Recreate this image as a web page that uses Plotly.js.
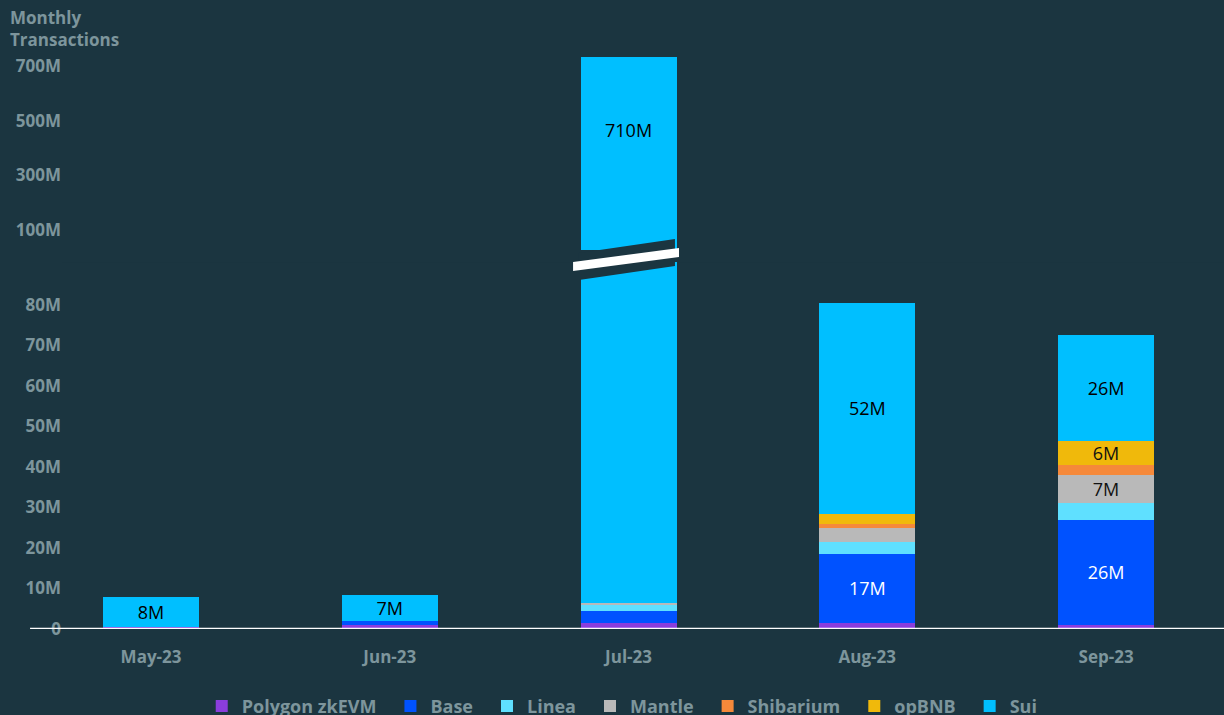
<!DOCTYPE html>
<html>
<head>
<meta charset="utf-8">
<script src="https://cdn.plot.ly/plotly-3.0.1.min.js"></script>
<style>
  html, body { margin: 0; padding: 0; background: #1b3540; overflow: hidden; }
  #chart { width: 1224px; height: 715px; }
</style>
</head>
<body>
<div id="chart"></div>
<script>
// ---- data (millions of transactions) ----
const months = ['May-23', 'Jun-23', 'Jul-23', 'Aug-23', 'Sep-23'];
const polygonZkEVM = [0.4, 1.0, 1.5, 1.5, 1.0];
const base = [0, 1.0, 3.0, 17, 26];
const linea = [0, 0, 1.4, 3.0, 4.0];
const mantle = [0, 0, 0.6, 3.5, 7];
const shibarium = [0, 0, 0, 1.0, 2.5];
const opBNB = [0, 0, 0, 2.5, 6];
const sui = [7.6, 6.5, 710, 52, 26];

const baseLabels = ['', '', '', '17M', '26M'];
const mantleLabels = ['', '', '', '', '7M'];
const opBNBLabels = ['', '', '', '', '6M'];
const suiLabels = ['8M', '7M', '710M', '52M', '26M'];

const lowerTickVals = [0, 10, 20, 30, 40, 50, 60, 70, 80];
const lowerTickText = ['0', '10M', '20M', '30M', '40M', '50M', '60M', '70M', '80M'];
const upperTickVals = [100, 300, 500, 700];
const upperTickText = ['100M', '300M', '500M', '700M'];

// ---- styling ----
const BG = '#1b3540';
const GREY = '#7d959c';
const FONT = 'Open Sans, Noto Sans, sans-serif';
const LOWER_MAX = 93.8;

const series = [
  { name: 'Polygon zkEVM', y: polygonZkEVM, color: '#8a3ddc', text: null, tc: '#000' },
  { name: 'Base', y: base, color: '#0052ff', text: baseLabels, tc: '#ffffff' },
  { name: 'Linea', y: linea, color: '#5fe0ff', text: null, tc: '#000' },
  { name: 'Mantle', y: mantle, color: '#b9b9b9', text: mantleLabels, tc: '#111' },
  { name: 'Shibarium', y: shibarium, color: '#f5893a', text: null, tc: '#000' },
  { name: 'opBNB', y: opBNB, color: '#f0b90b', text: opBNBLabels, tc: '#111' },
  { name: 'Sui', y: sui, color: '#00bfff', text: null, tc: '#000' }
];

// totals below Sui, for the broken (upper) part of the axis
const belowSui = months.map((m, i) => polygonZkEVM[i] + base[i] + linea[i] + mantle[i] + shibarium[i] + opBNB[i]);
const totals = months.map((m, i) => belowSui[i] + sui[i]);

const traces = series.map(s => {
  let text = s.text;
  if (s.name === 'Sui') {
    text = suiLabels.map((t, i) => totals[i] > LOWER_MAX ? '' : t);
  }
  return {
    type: 'bar',
    name: s.name + '\u2002',
    x: months,
    y: s.y,
    xaxis: 'x', yaxis: 'y',
    marker: { color: s.color, line: { width: 0 } },
    text: text || months.map(() => ''),
    textposition: 'inside',
    insidetextanchor: 'middle',
    constraintext: 'none',
    textangle: 0,
    textfont: { family: FONT, size: 18, color: s.tc },
    hoverinfo: 'x+y+name'
  };
});

// upper (broken) part: only bars whose total exceeds the lower axis
traces.push({
  type: 'bar',
  name: 'Sui',
  showlegend: false,
  x: months,
  y: months.map((m, i) => totals[i] > LOWER_MAX ? sui[i] : null),
  base: belowSui,
  xaxis: 'x', yaxis: 'y2',
  marker: { color: '#00bfff', line: { width: 0 } },
  hoverinfo: 'x+y+name'
});

// axis title + label for the broken bar
const annotations = [{
  xref: 'paper', yref: 'paper',
  x: -0.0465, xanchor: 'left',
  y: 1.0928, yanchor: 'top',
  align: 'left', showarrow: false,
  text: 'Monthly<br>Transactions',
  font: { family: FONT, size: 17, color: GREY, weight: 'bold' }
}];
months.forEach((m, i) => {
  if (totals[i] > LOWER_MAX) {
    annotations.push({
      x: m, y: 450, xref: 'x', yref: 'y2',
      text: suiLabels[i], showarrow: false,
      font: { family: FONT, size: 18, color: '#000' }
    });
  }
});

// baseline + break marker across the broken bar
const shapes = [
  { type: 'line', xref: 'paper', yref: 'y', x0: -0.0275, x1: 1.01, y0: 0, y1: 0,
    line: { color: '#ffffff', width: 2.5 }, layer: 'above' },
  { type: 'path', xref: 'paper', yref: 'paper', layer: 'above',
    path: 'M 0.4449 0.6573 L 0.5275 0.6818 L 0.5275 0.6346 L 0.4449 0.6101 Z',
    fillcolor: BG, line: { width: 0 } },
  { type: 'path', xref: 'paper', yref: 'paper', layer: 'above',
    path: 'M 0.4398 0.6416 L 0.5310 0.6661 L 0.5310 0.6503 L 0.4398 0.6259 Z',
    fillcolor: '#ffffff', line: { width: 0 } }
];

const tickFont = { family: FONT, size: 17, color: GREY, weight: 'bold' };

const layout = {
  width: 1224, height: 715,
  paper_bgcolor: BG, plot_bgcolor: BG,
  margin: { l: 62, r: 0, t: 57, b: 86, autoexpand: false },
  barmode: 'stack',
  bargap: 0.598,
  showlegend: true,
  xaxis: {
    type: 'category',
    range: [-0.373, 4.494],
    showgrid: false, zeroline: false, showline: false,
    ticks: 'outside', ticklen: 13, tickcolor: 'rgba(0,0,0,0)',
    tickfont: tickFont,
    anchor: 'y'
  },
  yaxis: {
    domain: [0, 0.6643],
    range: [0, LOWER_MAX],
    showgrid: false, zeroline: false, showline: false,
    tickmode: 'array', tickvals: lowerTickVals, ticktext: lowerTickText,
    tickfont: tickFont, ticks: '',
    anchor: 'x'
  },
  yaxis2: {
    domain: [0.6416, 1],
    range: [-35.8, 716.5],
    showgrid: false, zeroline: false, showline: false,
    tickmode: 'array', tickvals: upperTickVals, ticktext: upperTickText,
    tickfont: tickFont, ticks: '',
    ticklabelshift: 5,
    anchor: 'x'
  },
  legend: {
    orientation: 'h',
    x: 0.486, xanchor: 'center',
    y: -0.103, yanchor: 'top',
    traceorder: 'normal',
    font: { family: FONT, size: 18, color: GREY, weight: 'bold' },
    bgcolor: 'rgba(0,0,0,0)'
  },
  annotations: annotations,
  shapes: shapes
};

Plotly.newPlot('chart', traces, layout, { displayModeBar: false, staticPlot: true });
</script>
</body>
</html>
